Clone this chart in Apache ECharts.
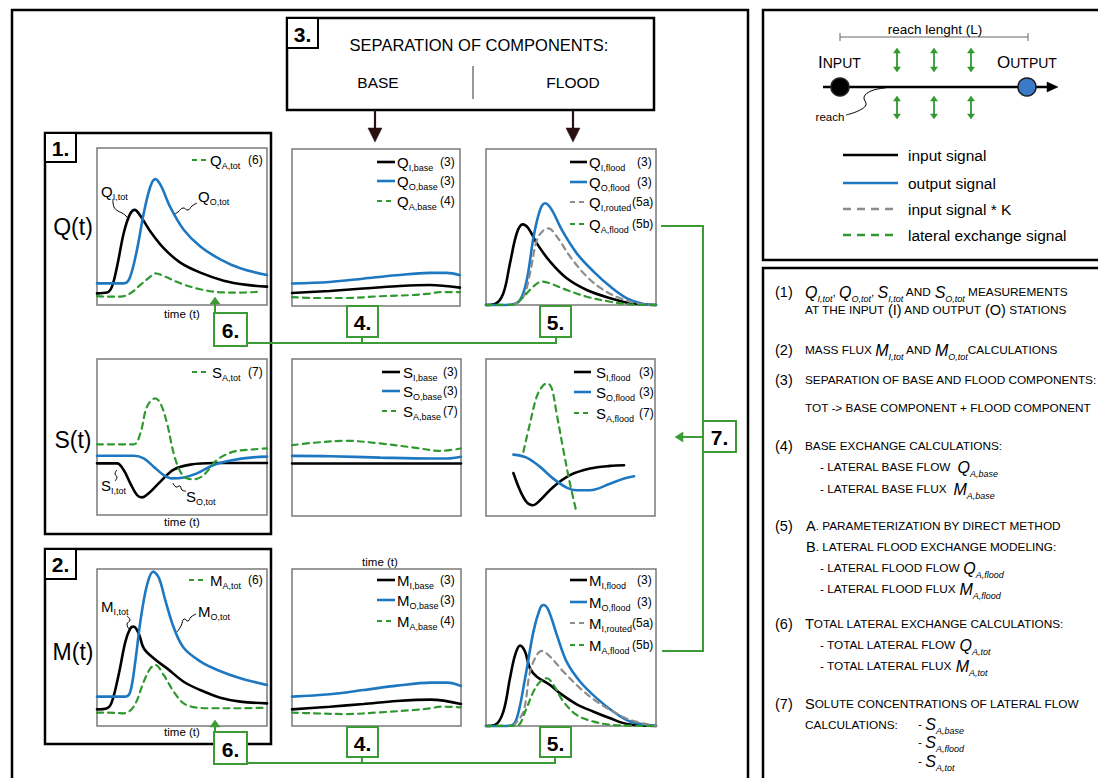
<!DOCTYPE html>
<html><head><meta charset="utf-8">
<script src="https://cdn.jsdelivr.net/npm/echarts@6/dist/echarts.min.js"></script>
<style>html,body{margin:0;padding:0;background:#fff}#c{width:1098px;height:778px}</style>
</head><body><div id="c"></div>
<script>
// ---------- data (x: time 0-100, y: relative value 0-100) ----------
const qITot=[[0,7.4],[5.9,7.9],[8.8,11.7],[11.8,24.5],[15.7,45.7],[19.2,57.4],[22.2,60.6],[25.5,56.8],[31.4,46.8],[39.2,36.2],[49,27],[60.8,20.6],[74.5,15.5],[88.2,12.8],[100,11.7]];
const qOTot=[[0,13.8],[15.7,13.8],[19.2,17],[23.5,35.1],[27.5,58.5],[31.4,75.5],[34.3,80.2],[37.6,76],[43.1,62.3],[51,47.9],[60.8,37.2],[72.5,29.1],[84.3,23.4],[100,19.1]];
const qATot=[[0,5.7],[5.9,5.3],[13.7,5.3],[19.6,7.4],[25.5,12.8],[31.4,18.1],[34.3,20.2],[39.2,18.5],[49,13.8],[60.8,10],[72.5,8.1],[84.3,7.9],[94,8.3]];
const qIBase=[[0,8.3],[22.4,9.6],[42.3,11.1],[62.1,12.6],[82,13.4],[100,11.7]];
const qOBase=[[0,14.3],[22.4,15.3],[42.3,17.4],[62.1,19.6],[82,21.1],[91.9,21.1],[100,19.6]];
const qABase=[[0,5.7],[12.5,5.1],[32.3,5.1],[52.2,6.2],[72,7],[82,7.9],[87.9,8.9],[100,8.9]];
const qIFlood=[[0,0],[5.3,0.6],[10.2,7.5],[14.1,26.7],[18.1,46],[21.6,51.7],[25,49.1],[29.9,39.5],[37.7,27.8],[47.5,17.1],[59.3,9.6],[73.1,4.3],[84.9,1.1],[100,0]];
const qOFlood=[[0,0],[14.1,0.2],[20,3.2],[24,16],[28,43.8],[31.8,61],[34.8,65.2],[38.7,61],[44.6,48.1],[53.4,33.1],[63.3,21.4],[73.1,11.8],[82.9,4.3],[92.7,0.6],[100,0]];
const qIRouted=[[16.1,0.2],[22,5.3],[25.9,20.3],[29.9,41.7],[33.8,47.9],[36.7,49.1],[41.7,43.8],[49.5,31],[59.3,18.2],[69.2,9.6],[79,4.3],[88.8,1.1],[100,0]];
const qAFlood=[[0,0],[16.1,0.2],[22,5.3],[27.9,11.8],[32.8,15],[37.7,13.9],[47.5,9.6],[59.3,5.3],[73.1,2.1],[84.9,0.4],[100,0]];

const sITot=[[0,33.1],[11.8,33.1],[15.7,28.8],[19.6,20.3],[23.5,12.8],[26.5,11.3],[30.4,13.9],[37.3,21.4],[45.1,29.1],[54.9,32.3],[68.6,33.3],[100,33.3]];
const sOTot=[[0,38],[21.6,38],[27.5,36.3],[33.3,31],[39.2,25.6],[44.1,23.5],[51,24.1],[58.8,26.7],[68.6,32],[80.4,35.3],[90.2,36.8],[100,37.4]];
const sATot=[[0,45.3],[21.6,45.3],[25.5,52.4],[29.4,69.4],[34.3,74.8],[37.3,71.6],[41.2,58.8],[45.1,39.5],[49,27.8],[52.9,23.5],[56.9,22.9],[62.7,25.6],[70.6,35.3],[80.4,40.6],[92.2,42.1],[100,42.7]];
const sIBase=[[0,33.4],[50,33.4],[100,33.4]];
const sOBase=[[0,38.3],[22.4,38.1],[52.2,37.2],[82,36.6],[91.9,36.6],[100,37.7]];
const sABase=[[0,45.1],[12.5,46.6],[32.3,47.9],[52.2,46.2],[72,43.6],[87.9,41.5],[100,43]];
const sIFlood=[[16.2,27.4],[20.1,16.4],[24,8.9],[27.6,6.8],[32,10],[39.8,18.5],[49.7,26],[61.5,30.2],[73.4,31.9],[81.7,32.3]];
const sOFlood=[[16.2,39.1],[24,37.2],[32,31.3],[39.8,23.8],[47.7,18.1],[53.6,16.4],[61.5,16.4],[73.4,20.6],[81.3,23.8],[87.6,25.3]];
const sAFlood=[[22.1,40.9],[26,58.9],[30,76],[33.5,82.8],[36.3,84.5],[38.9,81.3],[41.8,65.3],[45.8,41.9],[49.7,20.6],[53.3,3.6]];

const mITot=[[0,10.6],[5.9,11.3],[8.8,15.5],[12.7,32.5],[16.7,53.7],[19.6,62.2],[21.6,63.3],[24.5,59],[27.5,49.5],[33.3,43.1],[41.2,36.7],[51,28.2],[60.8,22.9],[72.5,18],[84.3,15.5],[100,14.4]];
const mOTot=[[0,18.7],[16.7,18.7],[19.6,21.9],[22.5,40.9],[25.5,66.5],[29.4,89.8],[33.1,98.3],[36.5,94.1],[40.4,79.2],[45.3,62.2],[51.2,49.5],[61,41],[70.8,35.7],[84.3,30.4],[100,26.1]];
const mATot=[[0,8.5],[5.9,8.5],[15.7,8.1],[21.6,12.3],[27.5,28.2],[31.4,36.7],[34.3,38.9],[39.2,32.5],[45.1,21.9],[51,14.4],[58.8,11.7],[68.6,11.3],[84.3,11.3],[100,11.7]];
const mIBase=[[0,10.6],[22.4,12.3],[42.3,14],[62.1,15.9],[82,16.8],[100,14]];
const mOBase=[[0,18.7],[22.4,20.2],[42.3,22.9],[62.1,25.7],[82,27.6],[91.9,27.6],[100,25.5]];
const mABase=[[0,8.5],[12.5,8.1],[32.3,7.6],[52.2,8.7],[72,10.2],[82,11.3],[87.9,12.3],[100,11.9]];
const mIFlood=[[0,0],[5.3,0.6],[10.2,9.1],[14.1,30.4],[17.1,45.2],[20,51.2],[23,47.3],[25.9,36.7],[29.9,31.4],[37.7,26.1],[43.6,20.8],[53.4,13.8],[63.3,9.1],[73.1,4.9],[82.9,1.3],[100,0]];
const mOFlood=[[0,0],[14.1,0.2],[18.1,4.9],[23,30.4],[27.9,60.1],[31.8,74.9],[33.8,77.1],[36.7,73.9],[41.7,57.9],[47.5,40.8],[55.4,28.2],[65.2,17.6],[75,9.1],[84.9,2.8],[100,0]];
const mIRouted=[[16.1,0.2],[22,9.1],[25.9,34.6],[29.9,45.2],[32.8,47.8],[37.7,44.2],[45.6,34.6],[55.4,24],[65.2,15.5],[75,9.1],[84.9,3.8],[100,0]];
const mAFlood=[[0,0],[18.1,0.2],[23,9.1],[27.9,21.9],[31.8,28.2],[35.8,30.4],[39.7,26.1],[45.6,15.5],[53.4,7],[63.3,2.8],[75,0.6],[100,0]];

// ---------- styling ----------
const FF='Liberation Sans, Arial, Helvetica, sans-serif';
const BLUE='#1d78c1', GREEN='#2f982f', GRAY='#8c8c8c', LINK='#3d9b35';
const grids=[[97,148,170,157],[292,149,168,157],[486,149,170,156],
             [97,359,170,156],[292,359,169,157],[486,359,169,157],
             [97,569,170,157],[292,569,169,157],[486,569,170,157]];
const STY={
  in:{color:'#000',width:2.6,type:'solid'},
  out:{color:BLUE,width:2.6,type:'solid'},
  lat:{color:GREEN,width:2.2,type:[6,5]},
  rout:{color:GRAY,width:2.2,type:[6,5]}
};
const seriesSpec=[
  [0,qITot,'in'],[0,qOTot,'out'],[0,qATot,'lat'],
  [1,qIBase,'in'],[1,qOBase,'out'],[1,qABase,'lat'],
  [2,qIFlood,'in'],[2,qOFlood,'out'],[2,qIRouted,'rout'],[2,qAFlood,'lat'],
  [3,sITot,'in'],[3,sOTot,'out'],[3,sATot,'lat'],
  [4,sIBase,'in'],[4,sOBase,'out'],[4,sABase,'lat'],
  [5,sIFlood,'in'],[5,sOFlood,'out'],[5,sAFlood,'lat'],
  [6,mITot,'in'],[6,mOTot,'out'],[6,mATot,'lat'],
  [7,mIBase,'in'],[7,mOBase,'out'],[7,mABase,'lat'],
  [8,mIFlood,'in'],[8,mOFlood,'out'],[8,mIRouted,'rout'],[8,mAFlood,'lat']
];

// ---------- graphic helpers ----------
const G=[];
function rect(x,y,w,h,stroke,lw,fill,z){G.push({type:'rect',z:z||50,shape:{x:x,y:y,width:w,height:h},style:{stroke:stroke,lineWidth:lw,fill:fill||'none'}});}
function ln(x1,y1,x2,y2,stroke,lw,dash,z){G.push({type:'line',z:z||50,shape:{x1:x1,y1:y1,x2:x2,y2:y2},style:{stroke:stroke,lineWidth:lw,lineDash:dash||null}});}
function pl(pts,stroke,lw,smooth,z){G.push({type:'polyline',z:z||50,shape:{points:pts,smooth:smooth||0},style:{stroke:stroke,lineWidth:lw,fill:'none'}});}
function pg(pts,fill,z){G.push({type:'polygon',z:z||50,shape:{points:pts},style:{fill:fill,stroke:fill,lineWidth:0.5}});}
function tx(x,y,text,o){o=o||{};G.push({type:'text',z:o.z||60,x:x,y:y,style:{text:text,fontFamily:FF,fontSize:o.size||12,fontWeight:o.weight||'normal',fontStyle:o.style||'normal',fill:o.fill||'#000',align:o.align||'left',verticalAlign:'middle',rich:o.rich||undefined}});}

// plot-label rich styles
const PR={m:{fontSize:15,fontFamily:FF,fill:'#000'},s:{fontSize:9,fontFamily:FF,fill:'#000',padding:[12,0,0,0]}};
function lab(x,y,m,s){tx(x,y,'{m|'+m+'}{s|'+s+'}',{rich:PR});}
function num(x,y,t){tx(x,y,t,{size:12});}
function legRow(x1,x2,y,kind,tx0,m,s,n,nx){
  const st=STY[kind];
  ln(x1,y,x2,y,st.color,st.width,kind==='lat'||kind==='rout'?[5,4]:null,55);
  lab(tx0,y,m,s); num(nx,y,n);
}

// ---------- frames ----------
rect(12,10,736,790,'#000',2.5);
rect(763,10,345,250,'#000',2.5);
rect(763,268,345,530,'#000',2.5);
// box 3
rect(287,18,367,92,'#000',2.5);
rect(287,18,31,30,'#000',2,'#fff');
tx(302.5,34,'3.',{size:21,weight:'bold',align:'center'});
tx(479,45,'SEPARATION OF COMPONENTS:',{size:16.5,align:'center'});
tx(378,82,'BASE',{size:15.5,align:'center'});
tx(573,82,'FLOOD',{size:15.5,align:'center'});
ln(473,66,473,99,'#333',1);
// arrows down
ln(375,110,375,130,'#2a1010',2.2); pg([[368,128],[382,128],[375,142]],'#2a1010');
ln(573,110,573,130,'#2a1010',2.2); pg([[566,128],[580,128],[573,142]],'#2a1010');
// box 1 and 2
rect(45,133,226,401,'#000',2.5);
rect(45,133,31,29,'#000',2,'#fff');
tx(60.5,148,'1.',{size:21,weight:'bold',align:'center'});
rect(45,549,226,195,'#000',2.5);
rect(45,549,31,30,'#000',2,'#fff');
tx(60.5,564.5,'2.',{size:21,weight:'bold',align:'center'});
tx(73,227,'Q(t)',{size:23,align:'center'});
tx(73,440,'S(t)',{size:23,align:'center'});
tx(73,652,'M(t)',{size:23,align:'center'});
// time labels
tx(182,314,'time (t)',{size:11.5,align:'center'});
tx(182,522,'time (t)',{size:11.5,align:'center'});
tx(182,732,'time (t)',{size:11.5,align:'center'});
tx(380,562,'time (t)',{size:11.5,align:'center'});

// ---------- plot annotations ----------
// plot 1 (Q tot)
ln(192,160,207,160,GREEN,2.2,[5,4],55); lab(210,160,'Q','A,tot'); num(248,160,'(6)');
lab(101,191,'Q','I,tot'); pl([[113,199],[114,207],[118,211],[122,213],[126,216],[129,220]],'#000',1,0.5);
lab(198,196,'Q','O,tot'); pl([[197,203],[192,206],[188,210],[183,208],[178,212],[175,214]],'#000',1,0.5);
// plot 2 (Q base)
legRow(377,395,162,'in',397,'Q','I,base','(3)',440);
legRow(377,395,181,'out',397,'Q','O,base','(3)',440);
legRow(377,395,201,'lat',397,'Q','A,base','(4)',440);
// plot 3 (Q flood)
legRow(570,587,162,'in',589,'Q','I,flood','(3)',637);
legRow(570,587,182,'out',589,'Q','O,flood','(3)',637);
legRow(570,587,202,'rout',589,'Q','I,routed','(5a)',632);
legRow(570,587,224,'lat',589,'Q','A,flood','(5b)',632);
// plot 4 (S tot)
ln(192,372,207,372,GREEN,2.2,[5,4],55); lab(212,372,'S','A,tot'); num(248,372,'(7)');
lab(101,485,'S','I,tot'); pl([[117,470],[115,474],[117,477],[115,481]],'#000',1,0.5);
lab(186,496,'S','O,tot'); pl([[173,483],[176,487],[180,486],[182,490],[186,491]],'#000',1,0.5);
// plot 5 (S base)
legRow(382,400,372,'in',403,'S','I,base','(3)',443);
legRow(382,400,391,'out',403,'S','O,base','(3)',443);
legRow(382,400,411,'lat',403,'S','A,base','(7)',443);
// plot 6 (S flood)
legRow(574,591,372,'in',596,'S','I,flood','(3)',639);
legRow(574,591,392,'out',596,'S','O,flood','(3)',639);
legRow(574,591,413,'lat',596,'S','A,flood','(7)',639);
// plot 7 (M tot)
ln(189,580,205,580,GREEN,2.2,[5,4],55); lab(210,580,'M','A,tot'); num(248,580,'(6)');
lab(101,606,'M','I,tot'); pl([[127,616],[130,620],[127,624],[129,629]],'#000',1,0.5);
lab(198,611,'M','O,tot'); pl([[196,614],[191,617],[188,621],[184,619],[181,626],[177,632]],'#000',1,0.5);
// plot 8 (M base)
legRow(377,395,580,'in',397,'M','I,base','(3)',440);
legRow(377,395,600,'out',397,'M','O,base','(3)',440);
legRow(377,395,621,'lat',397,'M','A,base','(4)',440);
// plot 9 (M flood)
legRow(570,587,580,'in',589,'M','I,flood','(3)',637);
legRow(570,587,602,'out',589,'M','O,flood','(3)',637);
legRow(570,587,623,'rout',589,'M','I,routed','(5a)',632);
legRow(570,587,645,'lat',589,'M','A,flood','(5b)',632);

// ---------- green flow connectors ----------
function gbox(x,y,w,h,t){rect(x,y,w,h,LINK,2,'#fff',70);tx(x+w/2,y+h/2+1,t,{size:21,weight:'bold',align:'center',z:75});}
// top row
ln(215,313,215,303,LINK,2,null,70); pg([[210,304],[220,304],[215,297]],LINK,70);
pl([[247,343],[557,343]],LINK,2,0,65);
ln(362,337,362,343,LINK,2,null,65); ln(556,337,556,343,LINK,2,null,65);
gbox(214,313,33,33,'6.'); gbox(347,306,31,31,'4.'); gbox(540,306,31,31,'5.');
// bottom row
ln(215,732,215,726,LINK,2,null,70); pg([[210,727],[220,727],[215,720]],LINK,70);
pl([[247,763],[556,763]],LINK,2,0,65);
ln(362,757,362,763,LINK,2,null,65); ln(555,757,555,763,LINK,2,null,65);
gbox(214,732,33,32,'6.'); gbox(347,727,31,30,'4.'); gbox(540,727,31,30,'5.');
// right connector
pl([[661,226],[703,226],[703,651],[662,651]],LINK,2,0,65);
ln(703,437,682,437,LINK,2,null,65); pg([[683,432],[683,442],[675,437]],LINK,70);
gbox(703,421,33,31,'7.');

// ---------- top-right schematic ----------
tx(935,29,'reach lenght (L)',{size:13.5,align:'center'});
ln(840,37,1028,37,'#666',1); ln(840,33,840,41,'#666',1); ln(1028,33,1028,41,'#666',1);
tx(818,62,'{b|I}{c|NPUT}',{rich:{b:{fontSize:17,fontFamily:FF,fill:'#000'},c:{fontSize:14,fontFamily:FF,fill:'#000',padding:[2,0,0,0]}}});
tx(997,62,'{b|O}{c|UTPUT}',{rich:{b:{fontSize:17,fontFamily:FF,fill:'#000'},c:{fontSize:14,fontFamily:FF,fill:'#000',padding:[2,0,0,0]}}});
ln(823,87,1050,87,'#000',2.5); pg([[1047,82],[1058,87],[1047,92]],'#000');
G.push({type:'circle',z:60,shape:{cx:840,cy:87,r:9},style:{fill:'#000',stroke:'#222',lineWidth:1.5}});
G.push({type:'circle',z:60,shape:{cx:1027,cy:87,r:9},style:{fill:'#3a7bc8',stroke:'#1a1a1a',lineWidth:1.5}});
[897,934,971].forEach(function(x){
  [[48,72],[96,119]].forEach(function(r){
    ln(x,r[0]+4,x,r[1]-4,GREEN,1.8,null,60);
    pg([[x-3.5,r[0]+5],[x+3.5,r[0]+5],[x,r[0]]],GREEN,60);
    pg([[x-3.5,r[1]-5],[x+3.5,r[1]-5],[x,r[1]]],GREEN,60);
  });
});
tx(830,117,'reach',{size:11.5,align:'center'});
pl([[846,115],[858,111],[866,105],[864,97],[871,91],[884,88],[893,87]],'#000',1,0.4);
// legend
ln(843,155,898,155,'#000',2.6); tx(908,155,'input signal',{size:15.5});
ln(843,183,898,183,BLUE,2.6); tx(908,183,'output signal',{size:15.5});
ln(843,209,898,209,GRAY,2.4,[8,6]); tx(908,209,'input signal * K',{size:15.5});
ln(843,235,898,235,GREEN,2.4,[8,6]); tx(908,235,'lateral exchange signal',{size:15.5});

// ---------- right-bottom step list ----------
const RR={n:{fontSize:14.5,fontFamily:FF,fill:'#000'},c:{fontSize:11.8,fontFamily:FF,fill:'#000'},
  v:{fontSize:16,fontStyle:'italic',fontFamily:FF,fill:'#000'},
  s:{fontSize:9,fontStyle:'italic',fontFamily:FF,fill:'#000',padding:[13,0,0,0]}};
function rt(x,y,t){tx(x,y,t,{rich:RR});}
rt(775,292,'{n|(1)}');
rt(805,292,'{v|Q}{s|I,tot}{c|, }{v|Q}{s|O,tot}{c|, }{v|S}{s|I,tot}{c| AND }{v|S}{s|O,tot}{c| MEASUREMENTS}');
rt(805,310,'{c|AT THE INPUT }{n|(I)}{c| AND OUTPUT }{n|(O)}{c| STATIONS}');
rt(775,350,'{n|(2)}');
rt(805,350,'{c|MASS FLUX }{v|M}{s|I,tot}{c| AND }{v|M}{s|O,tot}{c|CALCULATIONS}');
rt(775,380,'{n|(3)}');
rt(805,380,'{c|SEPARATION OF BASE AND FLOOD COMPONENTS:}');
rt(805,408,'{c|TOT -> BASE COMPONENT + FLOOD COMPONENT}');
rt(775,446,'{n|(4)}');
rt(805,446,'{c|BASE EXCHANGE CALCULATIONS:}');
rt(820,467,'{c|- LATERAL BASE FLOW  }{v|Q}{s|A,base}');
rt(820,489,'{c|- LATERAL BASE FLUX  }{v|M}{s|A,base}');
rt(775,526,'{n|(5)}');
rt(806,526,'{n|A}{c|. PARAMETERIZATION BY DIRECT METHOD}');
rt(806,547,'{n|B}{c|. LATERAL FLOOD EXCHANGE MODELING:}');
rt(820,568,'{c|- LATERAL FLOOD FLOW }{v|Q}{s|A,flood}');
rt(820,589,'{c|- LATERAL FLOOD FLUX }{v|M}{s|A,flood}');
rt(775,624,'{n|(6)}');
rt(805,624,'{n|T}{c|OTAL LATERAL EXCHANGE CALCULATIONS:}');
rt(820,645,'{c|- TOTAL LATERAL FLOW }{v|Q}{s|A,tot}');
rt(820,666,'{c|- TOTAL LATERAL FLUX }{v|M}{s|A,tot}');
rt(775,704,'{n|(7)}');
rt(805,704,'{n|S}{c|OLUTE CONCENTRATIONS OF LATERAL FLOW}');
rt(805,725,'{c|CALCULATIONS:}');
rt(918,724,'{c|- }{v|S}{s|A,base}');
rt(918,742,'{c|- }{v|S}{s|A,flood}');
rt(918,761,'{c|- }{v|S}{s|A,tot}');

// ---------- chart ----------
const chart=echarts.init(document.getElementById('c'),null,{renderer:'svg'});
chart.setOption({
  animation:false,
  backgroundColor:'#fff',
  grid:grids.map(function(g){return {left:g[0],top:g[1],width:g[2],height:g[3],show:true,borderColor:'#7a7a7a',borderWidth:1.5,backgroundColor:'#fff',containLabel:false};}),
  xAxis:grids.map(function(g,i){return {gridIndex:i,type:'value',min:0,max:100,show:false};}),
  yAxis:grids.map(function(g,i){return {gridIndex:i,type:'value',min:0,max:100,show:false};}),
  series:seriesSpec.map(function(s){const st=STY[s[2]];return {type:'line',xAxisIndex:s[0],yAxisIndex:s[0],data:s[1],smooth:0.35,showSymbol:false,clip:false,silent:true,lineStyle:{color:st.color,width:st.width,type:st.type,cap:'round'},z:3};}),
  graphic:{elements:G}
});
</script></body></html>
